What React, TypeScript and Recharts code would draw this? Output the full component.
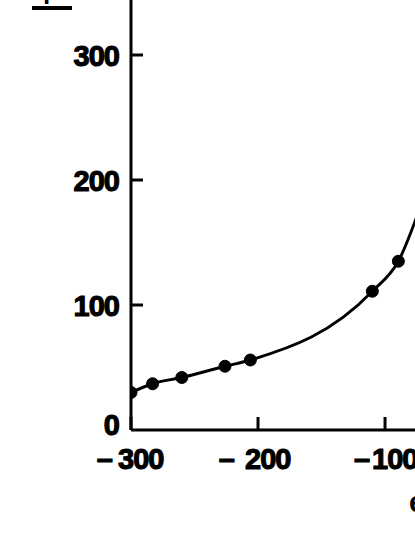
import React from 'react';
import { ComposedChart, Line, XAxis, YAxis } from 'recharts';

// measured points (x = potential, y = value); last point continues the curve past the cropped edge
const xValues = [-300, -283, -260, -226, -206, -110, -89.5, -70];
const yValues = [30, 37, 42, 51, 56, 111, 135, 185];
const xTicks = [-300, -200, -100];
const yTicks = [0, 100, 200, 300];
const xDomain: [number, number] = [-300, -76.4];
const yDomain: [number, number] = [0, 344];

const data = xValues.map((x, i) => ({ x, y: yValues[i] }));

const FONT = '"Liberation Sans", Arial, sans-serif';

const XTick = (props: any) => {
  const { x, y, payload } = props;
  const v: number = payload.value;
  const digits = String(Math.abs(v));
  const gap = v === -200 ? 23 : v === -100 ? 15 : 18;
  return (
    <g>
      <line x1={x} x2={x} y1={y} y2={y - 13} stroke="#000" strokeWidth={3} />
      <text x={x - gap} y={y + 39} textAnchor="end" fontFamily={FONT} fontWeight="bold" fontSize={29} fill="#000" stroke="#000" strokeWidth={1.1}>–</text>
      <text x={x - 13} y={y + 39} textAnchor="start" fontFamily={FONT} fontWeight="bold" fontSize={29} fill="#000" stroke="#000" strokeWidth={1.1} letterSpacing={-1}>{digits}</text>
    </g>
  );
};

const YTick = (props: any) => {
  const { x, y, payload } = props;
  const v: number = payload.value;
  return (
    <g>
      {v !== 0 && <line x1={x} x2={x + 12} y1={y} y2={y} stroke="#000" strokeWidth={3} />}
      <text x={x - 12} y={y + (v === 0 ? 5 : 11)} textAnchor="end" fontFamily={FONT} fontWeight="bold" fontSize={29} fill="#000" stroke="#000" strokeWidth={1.1} letterSpacing={-1}>{v}</text>
    </g>
  );
};

export default function App() {
  return (
    <div style={{ position: 'absolute', left: 0, top: 0, width: 415, height: 537, overflow: 'hidden', background: '#fff' }}>
      <ComposedChart width={415} height={537} data={data} margin={{ top: 0, right: 0, bottom: 0, left: 0 }}>
        <XAxis
          dataKey="x"
          type="number"
          domain={xDomain}
          allowDataOverflow
          ticks={xTicks}
          height={107}
          tickSize={0}
          tickMargin={0}
          tickLine={false}
          axisLine={{ stroke: '#000', strokeWidth: 3 }}
          tick={<XTick />}
        />
        <YAxis
          type="number"
          domain={yDomain}
          allowDataOverflow
          ticks={yTicks}
          width={131}
          tickSize={0}
          tickMargin={0}
          tickLine={false}
          axisLine={{ stroke: '#000', strokeWidth: 3 }}
          tick={<YTick />}
        />
        <Line
          dataKey="y"
          type="monotone"
          stroke="#000"
          strokeWidth={2.9}
          dot={{ r: 6, fill: '#000', stroke: '#000', strokeWidth: 1 }}
          isAnimationActive={false}
        />
      </ComposedChart>
      <div style={{ position: 'absolute', left: 36, top: -27, fontFamily: FONT, fontWeight: 'bold', fontSize: 30, lineHeight: '30px', color: '#000' }}>φ</div>
      <div style={{ position: 'absolute', left: 32, top: 6, width: 40, height: 4, background: '#000' }} />
      <div style={{ position: 'absolute', left: 409, top: 487, fontFamily: FONT, fontWeight: 'bold', fontSize: 29, lineHeight: '30px', color: '#000' }}>e</div>
    </div>
  );
}
